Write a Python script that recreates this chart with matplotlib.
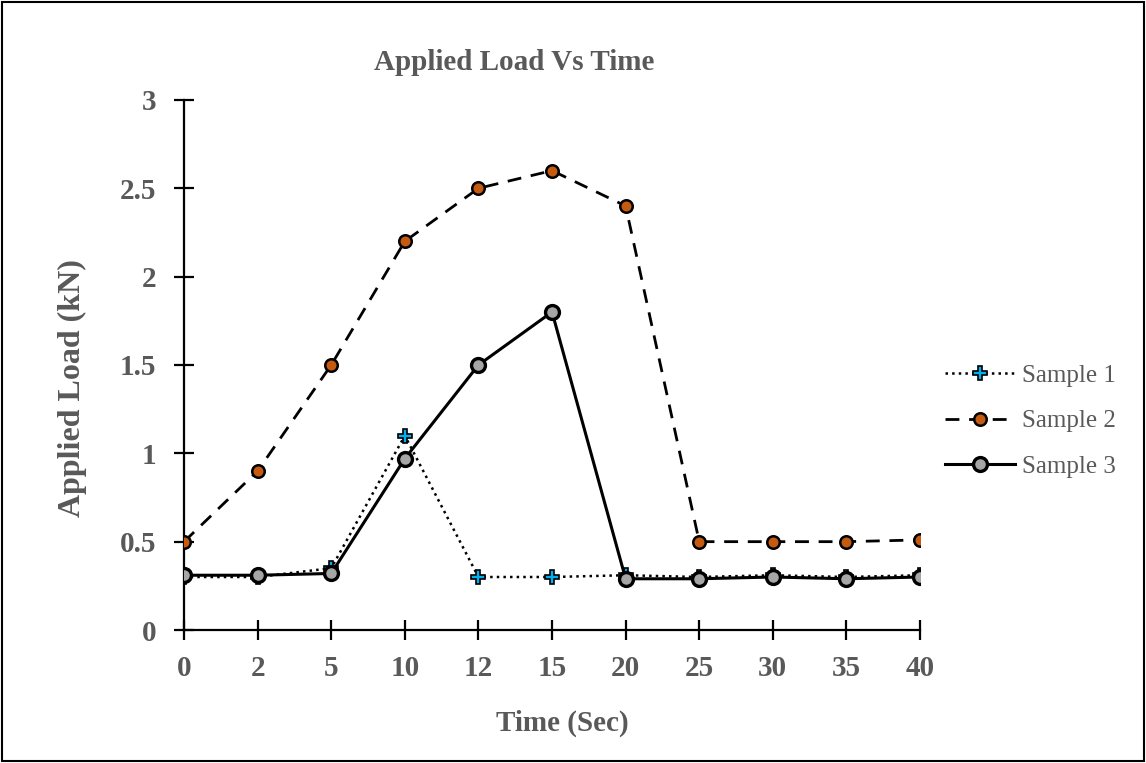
import matplotlib.pyplot as plt

plt.rcParams['font.family'] = ['Liberation Serif', 'DejaVu Serif']

time_labels = ['0', '2', '5', '10', '12', '15', '20', '25', '30', '35', '40']
sample1 = [0.30, 0.30, 0.35, 1.10, 0.30, 0.30, 0.31, 0.30, 0.31, 0.30, 0.31]
sample2 = [0.50, 0.90, 1.50, 2.20, 2.50, 2.60, 2.40, 0.50, 0.50, 0.50, 0.51]
sample3 = [0.31, 0.31, 0.32, 0.97, 1.50, 1.80, 0.29, 0.29, 0.30, 0.29, 0.30]
y_ticks = [0, 0.5, 1, 1.5, 2, 2.5, 3]

grey = '#595959'
x = list(range(len(time_labels)))

fig = plt.figure(figsize=(11.46, 7.63), dpi=100)
ax = fig.add_axes([0.1606, 0.1743, 0.6422, 0.6947])

ax.plot(x, sample1, color='black', linestyle=':', linewidth=1.8,
        marker='P', markersize=10, markerfacecolor='#00b0f0',
        markeredgecolor='black', markeredgewidth=1.2, label='Sample 1', zorder=3)
ax.plot(x, sample2, color='black', linestyle=(0, (5, 3.5)), linewidth=2,
        marker='o', markersize=9, markerfacecolor='#c55a11',
        markeredgecolor='black', markeredgewidth=1.8, label='Sample 2', zorder=4)
ax.plot(x, sample3, color='black', linestyle='-', linewidth=2.2,
        marker='o', markersize=10, markerfacecolor='#a6a6a6',
        markeredgecolor='black', markeredgewidth=2.4, label='Sample 3', zorder=5)

ax.set_xlim(0, 10)
ax.set_ylim(0, 3)
ax.set_xticks(x)
ax.set_xticklabels(time_labels)
ax.set_yticks(y_ticks)
ax.set_yticklabels(['0', '0.5', '1', '1.5', '2', '2.5', '3'])

for s in ['top', 'right']:
    ax.spines[s].set_visible(False)
for s in ['left', 'bottom']:
    ax.spines[s].set_linewidth(1.6)
    ax.spines[s].set_clip_on(False)

ax.tick_params(axis='both', direction='inout', length=14, width=1.6,
               labelsize=21, labelcolor=grey)
ax.tick_params(axis='y', pad=13)
ax.tick_params(axis='x', pad=11)
for lbl in ax.get_xticklabels() + ax.get_yticklabels():
    lbl.set_fontweight('bold')

ax.set_xlabel('Time (Sec)', fontsize=21, fontweight='bold', color=grey)
ax.set_ylabel('Applied Load (kN)', fontsize=23, fontweight='bold', color=grey)
ax.xaxis.set_label_coords((562 - 184) / 736, (630 - 710) / 530)
ax.yaxis.set_label_coords((87 - 184) / 736, (630 - 388) / 530)
fig.text(514 / 1146, 1 - 62 / 763, 'Applied Load Vs Time', ha='center', va='center',
         fontsize=21, fontweight='bold', color=grey)

leg = fig.legend(loc='center left', bbox_to_anchor=(945 / 1146, 1 - 421 / 763),
                 frameon=False, fontsize=18, handlelength=2.8, labelspacing=0.93,
                 handletextpad=0.3, borderpad=0, borderaxespad=0)
for t in leg.get_texts():
    t.set_color(grey)

border = plt.Rectangle((0.002, 0.003), 0.996, 0.994, transform=fig.transFigure,
                       fill=False, edgecolor='black', linewidth=1.5)
fig.patches.append(border)

fig.savefig('out.png', dpi=100)
